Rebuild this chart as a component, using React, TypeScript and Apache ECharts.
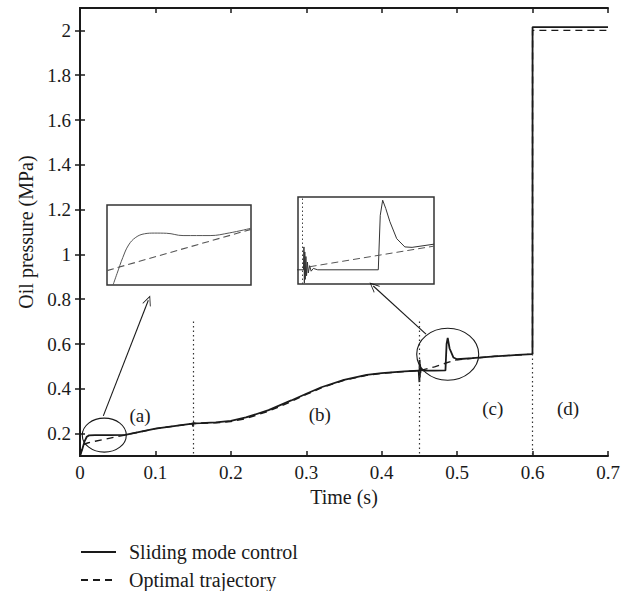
import React, { useEffect, useRef } from "react";
import * as echarts from "echarts";

// ---- Main chart data ----
const smcTime = [0, 0.003, 0.006, 0.009, 0.012, 0.02, 0.04, 0.06, 0.1, 0.149, 0.15, 0.1505, 0.151, 0.16, 0.18, 0.2, 0.22, 0.25, 0.28, 0.3, 0.32, 0.35, 0.38, 0.4, 0.43, 0.449, 0.45, 0.4503, 0.4506, 0.4509, 0.4512, 0.452, 0.455, 0.47, 0.4845, 0.486, 0.4875, 0.49, 0.495, 0.5, 0.52, 0.55, 0.58, 0.5999, 0.6, 0.65, 0.7];
const smcValue = [0.1, 0.13, 0.165, 0.186, 0.192, 0.193, 0.193, 0.194, 0.222, 0.245, 0.232, 0.25, 0.246, 0.247, 0.25, 0.257, 0.272, 0.305, 0.348, 0.378, 0.407, 0.44, 0.462, 0.47, 0.478, 0.481, 0.43, 0.53, 0.45, 0.51, 0.47, 0.49, 0.481, 0.481, 0.482, 0.6, 0.627, 0.58, 0.54, 0.532, 0.537, 0.545, 0.551, 0.555, 2.015, 2.015, 2.015];

const optTime = [0, 0.004, 0.01, 0.02, 0.04, 0.06, 0.1, 0.15, 0.18, 0.2, 0.22, 0.25, 0.28, 0.3, 0.32, 0.35, 0.38, 0.4, 0.43, 0.45, 0.47, 0.485, 0.5, 0.52, 0.55, 0.58, 0.5999, 0.6, 0.65, 0.7];
const optValue = [0.1, 0.15, 0.158, 0.166, 0.18, 0.194, 0.222, 0.245, 0.248, 0.254, 0.267, 0.3, 0.343, 0.375, 0.404, 0.438, 0.46, 0.469, 0.477, 0.481, 0.498, 0.515, 0.53, 0.536, 0.545, 0.551, 0.555, 2.0, 2.0, 2.0];

// ---- Inset (a) data ----
const insetATime = [0.0071, 0.0085, 0.0105, 0.0125, 0.015, 0.018, 0.0215, 0.0257, 0.0314, 0.0408, 0.0475, 0.055];
const insetASmc = [0.16, 0.1665, 0.1755, 0.1825, 0.1868, 0.1888, 0.1892, 0.1891, 0.1878, 0.1878, 0.1893, 0.1919];
const insetAOptTime = [0.005, 0.03, 0.055];
const insetAOpt = [0.1681, 0.1797, 0.1913];

// ---- Inset (c) data ----
const insetCTime = [0.4475, 0.4505, 0.4507, 0.4509, 0.4511, 0.4513, 0.4516, 0.4519, 0.4523, 0.4527, 0.4533, 0.454, 0.455, 0.457, 0.4846, 0.4855, 0.4866, 0.488, 0.4899, 0.493, 0.4967, 0.5, 0.51];
const insetCSmc = [0.481, 0.481, 0.531, 0.452, 0.52, 0.46, 0.51, 0.468, 0.498, 0.474, 0.49, 0.478, 0.484, 0.481, 0.481, 0.6, 0.633, 0.615, 0.586, 0.549, 0.531, 0.53, 0.537];
const insetCOptTime = [0.4533, 0.51];
const insetCOpt = [0.4877, 0.5327];

// ---- Axis ticks ----
const xTicks = [0, 0.1, 0.2, 0.3, 0.4, 0.5, 0.6, 0.7];
const yTicks = [0.2, 0.4, 0.6, 0.8, 1, 1.2, 1.4, 1.6, 1.8, 2];

const zip = (a: number[], b: number[]) => a.map((v, i) => [v, b[i]]);

const FONT = "Liberation Serif";
const INK = "#1a1a1a";

export default function App() {
  const ref = useRef<HTMLDivElement>(null);
  useEffect(() => {
    if (!ref.current) return;
    const chart = echarts.init(ref.current, undefined, { renderer: "svg" });
    const tickText = { fontFamily: FONT, fontSize: 19, color: INK };
    const titleText = { fontFamily: FONT, fontSize: 20, color: INK };
    const openArrow = "path://M0,10 L5,0 L10,10 L9,10 L5,2 L1,10 Z";
    const hiddenAxis = (gridIndex: number, min: number, max: number) => ({
      type: "value", gridIndex, min, max, show: false, splitLine: { show: false },
    });
    chart.setOption({
      animation: false,
      backgroundColor: "#fff",
      grid: [
        { left: 80, top: 8, right: 28, bottom: 135 },
        { left: 107, top: 205, width: 144, height: 80, show: true, borderColor: "#333", borderWidth: 1.5, backgroundColor: "#fff" },
        { left: 298, top: 197, width: 136, height: 87, show: true, borderColor: "#333", borderWidth: 1.5, backgroundColor: "#fff" },
      ],
      xAxis: [
        {
          type: "value", gridIndex: 0, min: 0, max: 0.7, interval: 0.1,
          name: "Time (s)", nameLocation: "middle", nameGap: 29, nameTextStyle: titleText,
          axisLine: { lineStyle: { color: INK, width: 2 } },
          axisTick: { inside: true, length: 5, lineStyle: { color: INK, width: 1.5 } },
          axisLabel: { ...tickText, margin: 7, customValues: xTicks },
          splitLine: { show: false },
        },
        {
          type: "value", gridIndex: 0, min: 0, max: 0.7, interval: 0.1, position: "top",
          axisLine: { lineStyle: { color: INK, width: 2 } },
          axisTick: { inside: true, length: 5, lineStyle: { color: INK, width: 1.5 } },
          axisLabel: { show: false },
          splitLine: { show: false },
        },
        hiddenAxis(1, 0.005, 0.055),
        hiddenAxis(2, 0.448, 0.51),
      ],
      yAxis: [
        {
          type: "value", gridIndex: 0, min: 0.1, max: 2.1,
          name: "Oil pressure (MPa)", nameLocation: "middle", nameGap: 43, nameTextStyle: titleText,
          axisLine: { lineStyle: { color: INK, width: 2 } },
          axisTick: { inside: true, length: 5, customValues: yTicks, lineStyle: { color: INK, width: 1.5 } },
          axisLabel: { ...tickText, margin: 9, customValues: yTicks },
          splitLine: { show: false },
        },
        {
          type: "value", gridIndex: 0, min: 0.1, max: 2.1, position: "right",
          axisLine: { lineStyle: { color: INK, width: 2 } },
          axisTick: { inside: true, length: 5, customValues: yTicks, lineStyle: { color: INK, width: 1.5 } },
          axisLabel: { show: false },
          splitLine: { show: false },
        },
        hiddenAxis(1, 0.16, 0.205),
        hiddenAxis(2, 0.45, 0.64),
      ],
      legend: {
        data: ["Sliding mode control", "Optimal trajectory"],
        orient: "vertical", left: 80, top: 542, padding: 0,
        itemWidth: 35, itemHeight: 14, itemGap: 8,
        itemStyle: { opacity: 0 },
        textStyle: { ...titleText, lineHeight: 20, padding: [0, 0, 0, 8] },
        selectedMode: false,
      },
      series: [
        {
          name: "Sliding mode control", type: "line", xAxisIndex: 0, yAxisIndex: 0,
          data: zip(smcTime, smcValue), symbol: "none", z: 4,
          lineStyle: { color: INK, width: 1.8 }, itemStyle: { color: INK },
        },
        {
          name: "Optimal trajectory", type: "line", xAxisIndex: 0, yAxisIndex: 0,
          data: zip(optTime, optValue), symbol: "none", z: 3,
          lineStyle: { color: INK, width: 1.4, type: [7, 5] }, itemStyle: { color: INK },
        },
        {
          name: "dividers", type: "line", xAxisIndex: 0, yAxisIndex: 0, data: [],
          markLine: {
            silent: true, symbol: "none", label: { show: false },
            lineStyle: { color: "#333", width: 1.2, type: [1.5, 3] },
            data: [
              [{ coord: [0.15, 0.7] }, { coord: [0.15, 0.1] }],
              [{ coord: [0.45, 0.7] }, { coord: [0.45, 0.1] }],
              [{ coord: [0.6, 0.555] }, { coord: [0.6, 0.1] }],
            ],
          },
        },
        {
          name: "arrows", type: "line", xAxisIndex: 0, yAxisIndex: 0, data: [],
          markLine: {
            silent: true, symbol: ["none", openArrow], symbolSize: [9, 10], label: { show: false },
            lineStyle: { color: INK, width: 1.1, type: "solid" },
            data: [
              [{ coord: [0.0309, 0.279] }, { coord: [0.0906, 0.7955] }],
              [{ coord: [0.4587, 0.6437] }, { coord: [0.3888, 0.859] }],
            ],
          },
        },
        {
          name: "inset a smc", type: "line", xAxisIndex: 2, yAxisIndex: 2,
          data: zip(insetATime, insetASmc), symbol: "none", smooth: 0.4,
          lineStyle: { color: "#555", width: 1 },
        },
        {
          name: "inset a opt", type: "line", xAxisIndex: 2, yAxisIndex: 2,
          data: zip(insetAOptTime, insetAOpt), symbol: "none",
          lineStyle: { color: "#555", width: 1.1, type: [7, 4] },
        },
        {
          name: "inset c smc", type: "line", xAxisIndex: 3, yAxisIndex: 3,
          data: zip(insetCTime, insetCSmc), symbol: "none", clip: false,
          lineStyle: { color: "#333", width: 1 },
          markLine: {
            silent: true, symbol: "none", label: { show: false },
            lineStyle: { color: "#444", width: 1, type: [1.5, 2.5] },
            data: [{ xAxis: 0.4507 }],
          },
        },
        {
          name: "inset c opt", type: "line", xAxisIndex: 3, yAxisIndex: 3,
          data: zip(insetCOptTime, insetCOpt), symbol: "none",
          lineStyle: { color: "#555", width: 1, type: [7, 4] },
        },
      ],
    });

    const px = (t: number, v: number) => chart.convertToPixel({ seriesIndex: 0 }, [t, v]) as number[];
    const ellipses = [
      { t: 0.0322, v: 0.193, rx: 22, ry: 17 },
      { t: 0.4875, v: 0.554, rx: 31, ry: 26 },
    ];
    const labels = [
      { t: 0.0795, v: 0.282, s: "(a)" },
      { t: 0.318, v: 0.287, s: "(b)" },
      { t: 0.5473, v: 0.3116, s: "(c)" },
      { t: 0.647, v: 0.3116, s: "(d)" },
    ];
    const graphic: any[] = [];
    ellipses.forEach((e) => {
      const [cx, cy] = px(e.t, e.v);
      graphic.push({ type: "ellipse", silent: true, z: 10, shape: { cx, cy, rx: e.rx, ry: e.ry }, style: { fill: "none", stroke: INK, lineWidth: 1.1 } });
    });
    labels.forEach((l) => {
      const [x, y] = px(l.t, l.v);
      graphic.push({ type: "text", silent: true, z: 10, x, y, style: { text: l.s, fontFamily: FONT, fontSize: 19, fill: INK, align: "center", verticalAlign: "middle" } });
    });
    chart.setOption({ graphic });

    return () => chart.dispose();
  }, []);
  return <div ref={ref} style={{ position: "fixed", left: 0, top: 0, width: 636, height: 591 }} />;
}
